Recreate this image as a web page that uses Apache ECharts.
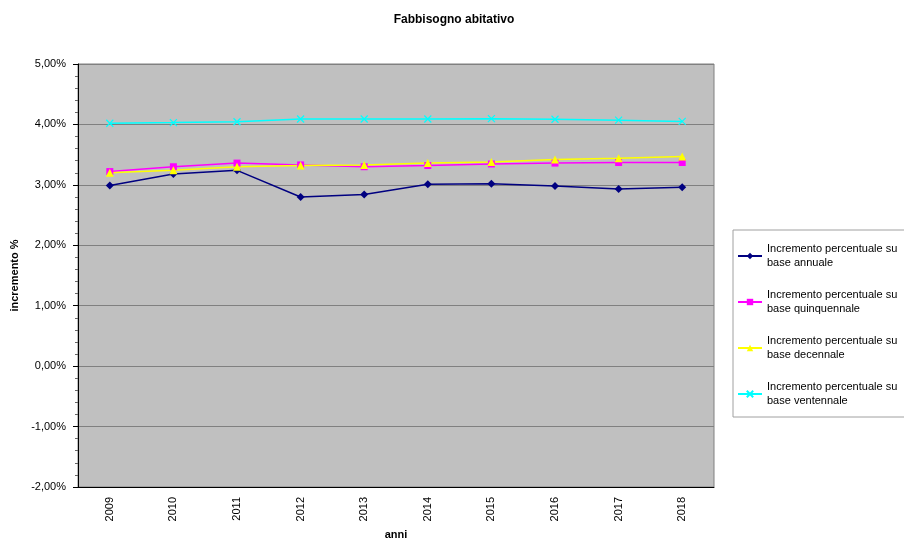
<!DOCTYPE html>
<html><head><meta charset="utf-8">
<script src="https://cdn.jsdelivr.net/npm/echarts@6/dist/echarts.min.js"></script>
<style>html,body{margin:0;padding:0;background:#fff}#c{width:904px;height:539px}</style>
</head><body><div id="c"></div>
<script>
var years = ['2009','2010','2011','2012','2013','2014','2015','2016','2017','2018'];
var annuale = [2.99, 3.18, 3.24, 2.80, 2.84, 3.01, 3.02, 2.98, 2.93, 2.96];
var quinquennale = [3.22, 3.30, 3.36, 3.33, 3.30, 3.32, 3.345, 3.36, 3.37, 3.37];
var decennale = [3.20, 3.24, 3.30, 3.32, 3.33, 3.36, 3.38, 3.42, 3.44, 3.47];
var ventennale = [4.02, 4.03, 4.045, 4.09, 4.09, 4.09, 4.095, 4.085, 4.07, 4.05];
var names = ['Incremento percentuale su\nbase annuale','Incremento percentuale su\nbase quinquennale','Incremento percentuale su\nbase decennale','Incremento percentuale su\nbase ventennale'];

var font = 'Liberation Sans, Arial, sans-serif';
function mk(name, data, color, symbol, size){
  return {name:name, type:'line', data:data, symbol:symbol, symbolSize:size,
    lineStyle:{color:color, width:1.5}, itemStyle:{color:color, borderColor:color, borderWidth: symbol.indexOf('path')===0?1.2:0},
    animation:false};
}
var chart = echarts.init(document.getElementById('c'));
chart.setOption({
  backgroundColor:'#fff',
  title:{text:'Fabbisogno abitativo', left:449, textAlign:'center', top:9,
    textStyle:{fontFamily:font, fontSize:12, fontWeight:'bold', color:'#000'}},
  grid:{left:78, right:190, top:64, bottom:52, outerBoundsMode:'none', containLabel:false,
    show:true, backgroundColor:'#C0C0C0', borderColor:'#808080', borderWidth:1},
  legend:{orient:'vertical', left:733, top:230, itemWidth:24, itemHeight:8, itemGap:18,
    borderColor:'#a0a0a0', borderWidth:1, padding:[12,20,9,4],
    textStyle:{fontFamily:font, fontSize:11, color:'#000', lineHeight:14}},
  xAxis:{type:'category', data:years, boundaryGap:true,
    name:'anni', nameLocation:'middle', nameGap:39,
    nameTextStyle:{fontFamily:font, fontSize:11, fontWeight:'bold', color:'#000'},
    axisLine:{onZero:false, lineStyle:{color:'#000', width:1}},
    axisTick:{alignWithLabel:true, length:5, lineStyle:{color:'#000'}},
    axisLabel:{rotate:90, fontFamily:font, fontSize:11, color:'#000', margin:10},
    splitLine:{show:false}},
  yAxis:{type:'value', min:-2, max:5, interval:1,
    name:'incremento %', nameLocation:'middle', nameGap:58,
    nameTextStyle:{fontFamily:font, fontSize:11, fontWeight:'bold', color:'#000'},
    axisLine:{show:true, lineStyle:{color:'#000', width:1}},
    axisTick:{show:true, length:5, lineStyle:{color:'#000'}},
    minorTick:{show:true, splitNumber:5, length:3, lineStyle:{color:'#666'}},
    axisLabel:{fontFamily:font, fontSize:11, color:'#000', margin:12,
      formatter:function(v){return v.toFixed(2).replace('.',',')+'%';}},
    splitLine:{show:true, lineStyle:{color:'#808080', width:1}}},
  series:[
    mk(names[0], annuale, '#000080', 'diamond', 8),
    mk(names[1], quinquennale, '#FF00FF', 'rect', 7),
    mk(names[2], decennale, '#FFFF00', 'triangle', 8),
    mk(names[3], ventennale, '#00FFFF', 'path://M0,0L10,10M10,0L0,10', 7)
  ]
});
</script></body></html>
